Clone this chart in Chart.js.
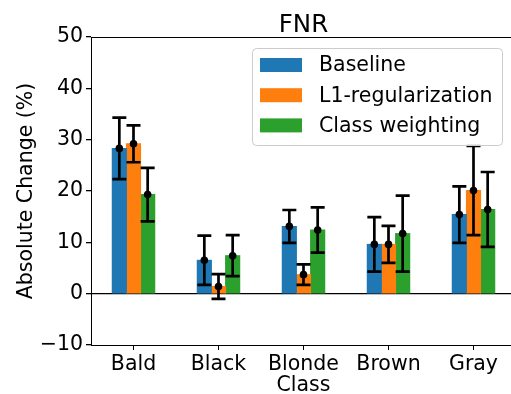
<!DOCTYPE html>
<html>
<head>
<meta charset="utf-8">
<script src="https://cdn.jsdelivr.net/npm/chart.js@4"></script>
<style>
  html, body { margin: 0; padding: 0; background: #fff; overflow: hidden; }
  #wrap { width: 516px; height: 394px; }
</style>
</head>
<body>
<div id="wrap"><canvas id="fnrChart"></canvas></div>
<script>
const classes = ["Bald", "Black", "Blonde", "Brown", "Gray"];
const seriesNames = ["Baseline", "L1-regularization", "Class weighting"];
const seriesColors = ["#1f77b4", "#ff7f0e", "#2ca02c"];

const baseline = [28.3, 6.5, 13.1, 9.6, 15.4];
const baselineErr = [6.0, 4.8, 3.2, 5.3, 5.5];
const l1Reg = [29.2, 1.4, 3.7, 9.6, 20.1];
const l1RegErr = [3.6, 2.4, 2.0, 3.6, 8.7];
const classWeight = [19.3, 7.4, 12.4, 11.7, 16.4];
const classWeightErr = [5.2, 4.0, 4.4, 7.4, 7.3];

const yTicks = [-10, 0, 10, 20, 30, 40, 50];

const FONT = "'DejaVu Sans', sans-serif";
const SIZE = 20.5;

// error bars with caps and a dot at the mean
const errorBars = {
  id: "errorBars",
  afterDatasetsDraw(chart) {
    const ctx = chart.ctx;
    const y = chart.scales.y;
    ctx.save();
    ctx.strokeStyle = "#000";
    ctx.fillStyle = "#000";
    ctx.lineWidth = 2.7;
    chart.data.datasets.forEach((ds, di) => {
      const meta = chart.getDatasetMeta(di);
      meta.data.forEach((bar, i) => {
        const v = ds.data[i];
        const e = ds.errors[i];
        const yt = y.getPixelForValue(v + e);
        const yb = y.getPixelForValue(v - e);
        const x = bar.x;
        ctx.beginPath();
        ctx.moveTo(x, yt);
        ctx.lineTo(x, yb);
        ctx.moveTo(x - 7, yt);
        ctx.lineTo(x + 7, yt);
        ctx.moveTo(x - 7, yb);
        ctx.lineTo(x + 7, yb);
        ctx.stroke();
        ctx.beginPath();
        ctx.arc(x, y.getPixelForValue(v), 3.8, 0, Math.PI * 2);
        ctx.fill();
      });
    });
    ctx.restore();
  },
};

// top spine, title and the legend box inside the axes
const frame = {
  id: "frame",
  afterDraw(chart) {
    const ctx = chart.ctx;
    const a = chart.chartArea;
    ctx.save();
    ctx.strokeStyle = "#000";
    ctx.lineWidth = 1;
    ctx.beginPath();
    ctx.moveTo(a.left, a.top + 0.5);
    ctx.lineTo(a.right, a.top + 0.5);
    ctx.stroke();

    ctx.fillStyle = "#000";
    ctx.font = "24.5px " + FONT;
    ctx.textAlign = "center";
    ctx.textBaseline = "alphabetic";
    ctx.fillText("FNR", (a.left + a.right) / 2, 32);

    // legend
    const bx = 252, by = 48, bw = 250, bh = 97;
    ctx.fillStyle = "rgba(255,255,255,0.8)";
    ctx.strokeStyle = "#cccccc";
    ctx.beginPath();
    ctx.roundRect(bx + 0.5, by + 0.5, bw, bh, 4);
    ctx.fill();
    ctx.stroke();
    ctx.font = SIZE + "px " + FONT;
    ctx.textAlign = "left";
    ctx.textBaseline = "middle";
    chart.data.datasets.forEach((ds, i) => {
      const cy = 65 + i * 30.2;
      ctx.fillStyle = ds.backgroundColor;
      ctx.fillRect(260, cy - 7, 42, 14);
      ctx.fillStyle = "#000";
      ctx.fillText(ds.label, 319, cy + 1);
    });
    ctx.restore();
  },
};

const datasets = [baseline, l1Reg, classWeight].map((values, i) => ({
  label: seriesNames[i],
  data: values,
  errors: [baselineErr, l1RegErr, classWeightErr][i],
  backgroundColor: seriesColors[i],
  borderWidth: 0,
  inflateAmount: 0.5,
  categoryPercentage: 0.5,
  barPercentage: 1.0,
}));

new Chart(document.getElementById("fnrChart"), {
  type: "bar",
  data: { labels: classes, datasets },
  options: {
    responsive: true,
    maintainAspectRatio: false,
    animation: false,
    layout: { padding: { top: 37, left: 0, right: 0, bottom: 0 } },
    plugins: {
      legend: { display: false },
      tooltip: { enabled: false },
    },
    scales: {
      x: {
        offset: true,
        afterFit: (scale) => { scale.height = 49; },
        grid: { offset: false, drawOnChartArea: false, tickLength: 5, color: "#000" },
        border: { color: "#000", width: 1 },
        ticks: { color: "#000", padding: 2, font: { family: FONT, size: SIZE } },
        title: {
          display: true,
          text: "Class",
          color: "#000",
          font: { family: FONT, size: SIZE, lineHeight: 1 },
          padding: { top: 0, bottom: -2 },
        },
      },
      y: {
        min: -10,
        max: 50,
        afterFit: (scale) => { scale.width = 91; },
        afterBuildTicks: (scale) => {
          scale.ticks = yTicks.map((v) => ({ value: v }));
        },
        grid: {
          color: (c) => (c.tick && c.tick.value === 0 ? "#000" : "rgba(0,0,0,0)"),
          tickColor: "#000",
          tickLength: 5,
          lineWidth: 1.3,
        },
        border: { color: "#000", width: 1 },
        ticks: {
          color: "#000",
          padding: 3,
          font: { family: FONT, size: SIZE },
          callback: (v) => (v < 0 ? "\u2212" + Math.abs(v) : String(v)),
        },
        title: {
          display: true,
          text: "Absolute Change (%)",
          color: "#000",
          font: { family: FONT, size: SIZE },
          padding: { top: 14, bottom: 0 },
        },
      },
    },
  },
  plugins: [errorBars, frame],
});
</script>
</body>
</html>
